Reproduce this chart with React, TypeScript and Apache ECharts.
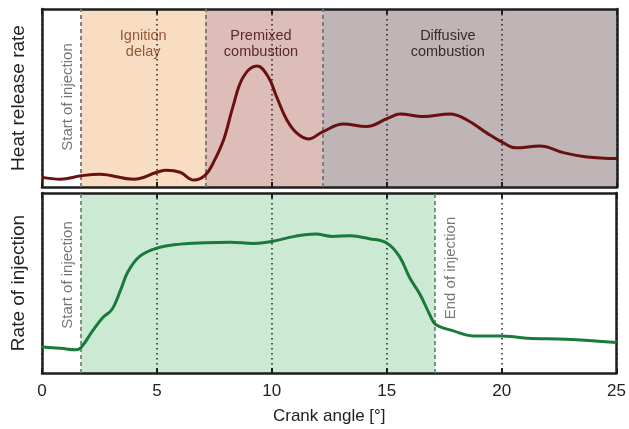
import React, { useEffect, useRef } from "react";
import * as echarts from "echarts";

const hrrAngles = [0, 0.8, 1.7, 2.5, 4.0, 5.0, 5.4, 6.0, 6.6, 7.1, 7.45, 7.9, 8.3, 8.75, 9.36, 9.84, 10.2, 10.64, 11.07, 11.58, 12.2, 13.1, 14.1, 15.05, 15.57, 16.57, 17.74, 18.46, 19.33, 20.06, 20.6, 21.65, 22.67, 23.7, 25];
const hrrValues = [5.4, 4.4, 6.3, 7.2, 4.4, 8.3, 9.4, 8.3, 3.9, 6.7, 13.7, 26.7, 45, 61.8, 68, 61.8, 50.7, 37.8, 30.4, 27, 31, 35.4, 34, 38.7, 41, 39.6, 41, 37.8, 30.4, 24.8, 22, 23, 19.3, 16.9, 16];

const injAngles = [0, 0.8, 1.45, 1.7, 2.2, 2.65, 3.05, 3.4, 3.75, 4.25, 5, 6, 7.1, 8.2, 9.2, 10, 11, 11.9, 12.65, 13.4, 14.25, 15, 15.55, 16, 16.45, 16.9, 17.13, 17.9, 18.75, 20, 21.1, 22.8, 25];
const injValues = [14.5, 13.8, 12.9, 14.2, 23.4, 30.8, 35.4, 45.5, 56.5, 64.8, 69.4, 71.6, 72.4, 72.7, 72, 73.1, 75.9, 77.2, 75.9, 76.2, 74.6, 72.2, 64.8, 52.9, 43.6, 31.7, 27, 23.4, 20.6, 20.6, 19.3, 18.8, 17];

const startOfInjection = 1.7;
const ignitionEnd = 7.1;
const premixedEnd = 12.2;
const endOfInjection = 17.1;
const phaseLabels = ["Ignition\ndelay", "Premixed\ncombustion", "Diffusive\ncombustion"];
const axisNames = ["Heat release rate", "Rate of injection", "Crank angle [°]"];

export default function App() {
  const ref = useRef<HTMLDivElement>(null);
  useEffect(() => {
    const chart = echarts.init(ref.current!, null, { renderer: "svg" });
    const pairs = (xs: number[], ys: number[]) => xs.map((x, i) => [x, ys[i]]);
    const hrr = pairs(hrrAngles, hrrValues);
    const inj = pairs(injAngles, injValues);
    const frame = "#1e1e1e";
    const font = "Liberation Sans, Arial, sans-serif";

    const xAxis = (gridIndex: number, position: string, labels: boolean, name?: string) => ({
      type: "value",
      gridIndex,
      position,
      min: 0,
      max: 25,
      interval: 5,
      z: 4,
      name,
      nameLocation: "middle",
      nameGap: 34,
      nameTextStyle: { fontSize: 17, color: "#222", fontFamily: font },
      axisLine: { show: true, onZero: false, lineStyle: { color: frame, width: 2.5 } },
      axisTick: { show: true, inside: true, length: 5, lineStyle: { color: frame, width: 2 } },
      axisLabel: { show: labels, fontSize: 17, color: "#222", margin: 9, fontFamily: font },
      splitLine: { show: position === "bottom", lineStyle: { type: [1.5, 3.5], color: "#222", width: 1.5 } },
    });
    const yAxis = (gridIndex: number, position: string, name?: string) => ({
      type: "value",
      gridIndex,
      position,
      min: 0,
      max: 100,
      z: 4,
      name,
      nameLocation: "middle",
      nameGap: 15,
      nameTextStyle: { fontSize: 19, color: "#222", fontFamily: font },
      axisLine: { show: true, onZero: false, lineStyle: { color: frame, width: 2.5 } },
      axisTick: { show: false },
      axisLabel: { show: false },
      splitLine: { show: false },
    });
    const phaseLabel = (text: string, color: string, dx: number) => ({
      show: true,
      position: "insideTop",
      distance: 18,
      offset: [dx, 0],
      formatter: text,
      color,
      fontSize: 14.5,
      lineHeight: 16,
      fontFamily: font,
    });
    const sideText = (x: number, y: number, text: string) => ({
      type: "text",
      x,
      y,
      rotation: Math.PI / 2,
      z: 10,
      style: { text, fill: "#777", fontSize: 15, fontFamily: font, align: "center", verticalAlign: "middle" },
    });

    chart.setOption({
      animation: false,
      textStyle: { fontFamily: font },
      grid: [
        { left: 42, right: 12, top: 9, height: 178 },
        { left: 42, right: 12, top: 193, height: 180 },
      ],
      xAxis: [
        xAxis(0, "bottom", false),
        xAxis(0, "top", false),
        xAxis(1, "bottom", true, axisNames[2]),
        xAxis(1, "top", false),
      ],
      yAxis: [
        yAxis(0, "left", axisNames[0]),
        yAxis(0, "right"),
        yAxis(1, "left", axisNames[1]),
        yAxis(1, "right"),
      ],
      series: [
        {
          type: "line",
          xAxisIndex: 0,
          yAxisIndex: 0,
          data: hrr,
          symbol: "none",
          silent: true,
          z: 1,
          lineStyle: { opacity: 0 },
          markArea: {
            silent: true,
            data: [
              [{ xAxis: startOfInjection, itemStyle: { color: "#f9ddc2" }, label: phaseLabel(phaseLabels[0], "#94563a", 0) }, { xAxis: ignitionEnd }],
              [{ xAxis: ignitionEnd, itemStyle: { color: "#dcbdb8" }, label: phaseLabel(phaseLabels[1], "#5e2a28", -3) }, { xAxis: premixedEnd }],
              [{ xAxis: premixedEnd, itemStyle: { color: "#bfb4b6" }, label: phaseLabel(phaseLabels[2], "#3b2a2c", -22) }, { xAxis: 25 }],
            ],
          },
          markLine: {
            silent: true,
            symbol: "none",
            label: { show: false },
            lineStyle: { type: [4, 3], color: "#7a7474", width: 1.8 },
            data: [{ xAxis: startOfInjection }, { xAxis: ignitionEnd }, { xAxis: premixedEnd }],
          },
        },
        {
          type: "line",
          xAxisIndex: 0,
          yAxisIndex: 0,
          data: hrr,
          symbol: "none",
          smooth: 0.4,
          z: 6,
          lineStyle: { color: "#6a1010", width: 3 },
        },
        {
          type: "line",
          xAxisIndex: 2,
          yAxisIndex: 2,
          data: inj,
          symbol: "none",
          silent: true,
          z: 1,
          lineStyle: { opacity: 0 },
          markArea: {
            silent: true,
            data: [[{ xAxis: startOfInjection, itemStyle: { color: "#cce9d3" } }, { xAxis: endOfInjection }]],
          },
          markLine: {
            silent: true,
            symbol: "none",
            label: { show: false },
            lineStyle: { type: [4, 3], color: "#6f8a76", width: 1.8 },
            data: [{ xAxis: startOfInjection }, { xAxis: endOfInjection }],
          },
        },
        {
          type: "line",
          xAxisIndex: 2,
          yAxisIndex: 2,
          data: inj,
          symbol: "none",
          smooth: 0.4,
          z: 6,
          lineStyle: { color: "#1a7a3a", width: 3 },
        },
      ],
      graphic: [
        sideText(66, 97, "Start of injection"),
        sideText(66, 275, "Start of injection"),
        sideText(449, 268, "End of injection"),
      ],
    });
    return () => chart.dispose();
  }, []);
  return <div ref={ref} style={{ position: "fixed", left: 0, top: 0, width: 629, height: 429 }} />;
}
